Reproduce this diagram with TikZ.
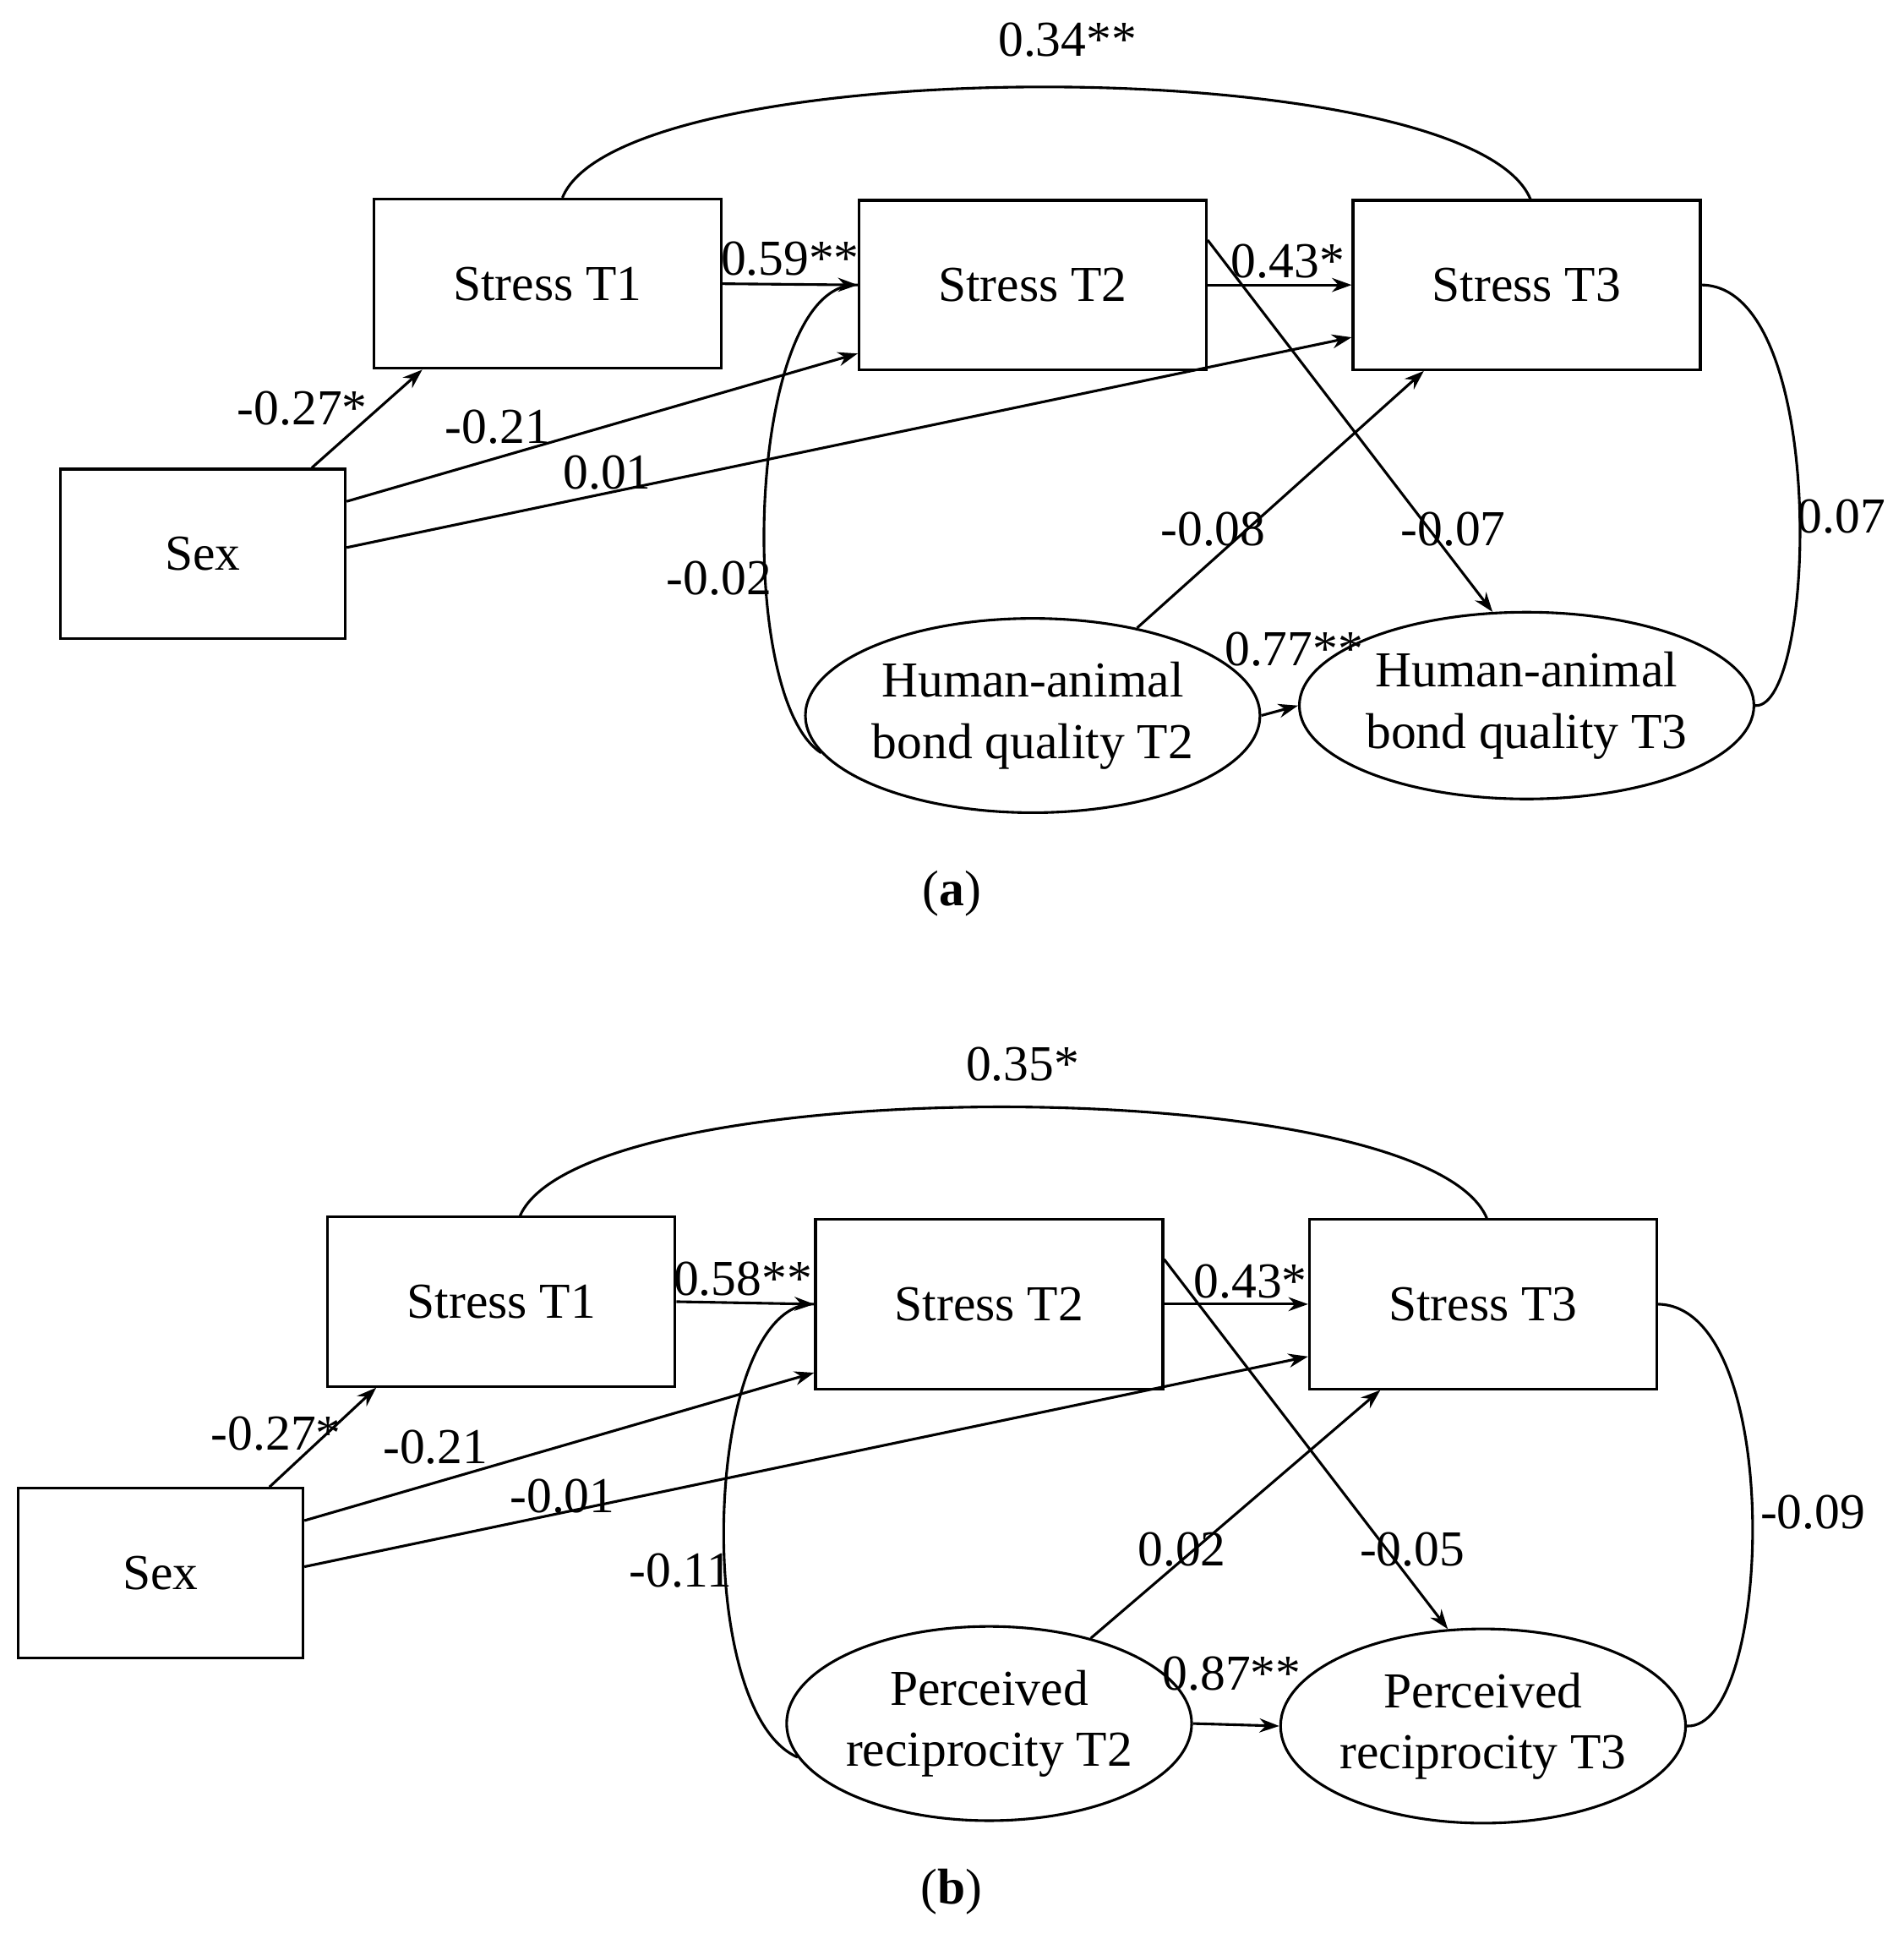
\documentclass[tikz,border=0pt]{standalone}
\usepackage{fontspec}
\setmainfont{Liberation Serif}
\usetikzlibrary{arrows.meta,shapes.geometric}
\begin{document}
\begin{tikzpicture}[x=0.01cm,y=-0.01cm,
  box/.style={draw,minimum width=2.79cm,minimum height=1.36cm,line width=0.6pt},
  ell/.style={draw,ellipse,minimum width=3.1cm,minimum height=1.56cm,align=center,inner sep=0pt,line width=0.6pt},
  lab/.style={font=\fontsize{11.5}{14}\selectfont},
  arr/.style={-{Stealth[length=4.5pt,width=3.2pt]},line width=0.6pt},
  ln/.style={line width=0.6pt},
  every node/.style={font=\fontsize{11.5}{14}\selectfont}]
\useasboundingbox (0,0) rectangle (1530,1567);
% ---------- panel a
\node[box] (t1a) at (440,228) {Stress T1};
\node[box] (t2a) at (830,229) {Stress T2};
\node[box] (t3a) at (1227,229) {Stress T3};
\node[box,minimum width=2.29cm] (sa) at (163,445) {Sex};
\node[ell] (h2a) at (830,575) {Human-animal\\bond quality T2};
\node[ell,minimum height=1.5cm] (h3a) at (1227,567) {Human-animal\\bond quality T3};
\draw[ln] ([xshift=0.12cm]t1a.north) .. controls (500,40) and (1180,40) .. ([xshift=0.03cm]t3a.north);
\node at (858,32) {0.34**};
\draw[arr] (t1a.east) -- (t2a.west);
\node at (635,208) {0.59**};
\draw[arr] (t2a.east) -- (t3a.west);
\node at (1035,210) {0.43*};
\draw[arr] ([xshift=-0.28cm]sa.north east) -- ([xshift=0.4cm]t1a.south west);
\node at (243,328) {-0.27*};
\draw[arr] ([yshift=-0.27cm]sa.north east) -- ([yshift=0.14cm]t2a.south west);
\node at (400,343) {-0.21};
\draw[arr] ([yshift=0.05cm]sa.east) -- ([yshift=0.27cm]t3a.south west);
\node at (488,380) {0.01};
\draw[arr] (h2a.40) -- ([xshift=0.58cm]t3a.south west);
\node at (975,425) {-0.08};
\draw[arr] ([yshift=-0.33cm]t2a.north east) -- (h3a.110);
\node at (1168,425) {-0.07};
\draw[arr] (h2a.east) -- (h3a.west);
\node at (1040,522) {0.77**};
\draw[ln] (h2a.190) .. controls (590,560) and (600,225) .. (t2a.west);
\node at (578,465) {-0.02};
\draw[ln] (t3a.east) .. controls (1470,230) and (1460,570) .. (h3a.east);
\node at (1480,415) {0.07};
\node at (765,718) {(\textbf{a})};
% ---------- panel b
\node[box] (t1b) at (403,1046) {Stress T1};
\node[box] (t2b) at (795,1048) {Stress T2};
\node[box] (t3b) at (1192,1048) {Stress T3};
\node[box,minimum width=2.29cm] (sb) at (129,1264) {Sex};
\node[ell] (h2b) at (795,1385) {Perceived\\reciprocity T2};
\node[ell] (h3b) at (1192,1387) {Perceived\\reciprocity T3};
\draw[ln] ([xshift=0.15cm]t1b.north) .. controls (470,860) and (1145,860) .. ([xshift=0.03cm]t3b.north);
\node at (822,855) {0.35*};
\draw[arr] (t1b.east) -- (t2b.west);
\node at (597,1028) {0.58**};
\draw[arr] (t2b.east) -- (t3b.west);
\node at (1005,1030) {0.43*};
\draw[arr] ([xshift=-0.28cm]sb.north east) -- ([xshift=0.4cm]t1b.south west);
\node at (222,1152) {-0.27*};
\draw[arr] ([yshift=-0.27cm]sb.north east) -- ([yshift=0.14cm]t2b.south west);
\node at (350,1163) {-0.21};
\draw[arr] ([yshift=0.05cm]sb.east) -- ([yshift=0.27cm]t3b.south west);
\node at (452,1202) {-0.01};
\draw[arr] (h2b.40) -- ([xshift=0.58cm]t3b.south west);
\node at (950,1245) {0.02};
\draw[arr] ([yshift=-0.33cm]t2b.north east) -- (h3b.110);
\node at (1135,1245) {-0.05};
\draw[arr] (h2b.east) -- (h3b.west);
\node at (990,1345) {0.87**};
\draw[ln] (h2b.190) .. controls (555,1375) and (565,1045) .. (t2b.west);
\node at (547,1262) {-0.11};
\draw[ln] (t3b.east) .. controls (1435,1050) and (1425,1390) .. (h3b.east);
\node at (1457,1215) {-0.09};
\node at (765,1520) {(\textbf{b})};
\end{tikzpicture}
\end{document}
